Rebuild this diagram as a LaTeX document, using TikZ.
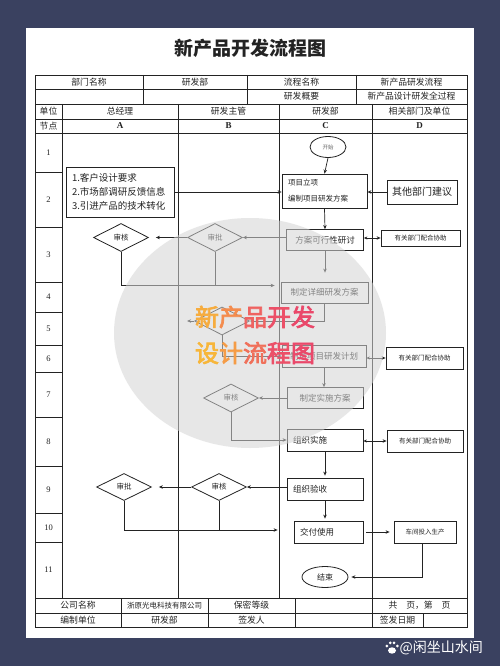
\documentclass[tikz,border=0pt]{standalone}
\usepackage{fontspec}
\setmainfont{Noto Sans CJK SC}
\newfontfamily\serif{Liberation Serif}
\newfontfamily\wmfont{Noto Sans CJK SC}[FakeBold=3]
\usetikzlibrary{shapes.geometric,arrows.meta,calc}
\definecolor{navy}{RGB}{58,65,96}
\definecolor{ink}{RGB}{35,35,35}
\definecolor{veil}{RGB}{212,212,212}
\definecolor{wmA}{RGB}{246,172,62}
\definecolor{wmB}{RGB}{244,140,78}
\definecolor{wmC}{RGB}{239,98,96}
\definecolor{wmD}{RGB}{236,80,104}
\definecolor{wmE}{RGB}{234,72,106}
\definecolor{wmF}{RGB}{247,182,58}
\definecolor{wmG}{RGB}{245,156,70}
\definecolor{wmH}{RGB}{240,112,90}
\tikzset{
  tline/.style={line width=0.9pt, draw=ink},
  cell/.style={font=\fontsize{8.8}{10}\selectfont, text=ink, inner sep=0pt},
  num/.style={font=\serif\fontsize{8.5}{10}\selectfont, text=ink, inner sep=0pt},
  box/.style={draw=ink, line width=0.8pt, inner sep=0pt, text=ink, font=\fontsize{8.5}{10}\selectfont},
  lbox/.style={box, align=left, inner xsep=6pt, inner ysep=0pt},
  dia/.style={diamond, draw=ink, line width=0.8pt, inner sep=0pt, minimum width=55pt, minimum height=28pt, text=ink, font=\fontsize{7.5}{9}\selectfont},
  term/.style={ellipse, draw=ink, line width=0.8pt, inner sep=0pt, text=ink},
  ln/.style={line width=0.7pt, draw=ink},
  arr/.style={ln, -{Stealth[length=4pt,width=3.5pt]}},
  biarr/.style={ln, {Stealth[length=3.5pt,width=3pt]}-{Stealth[length=4pt,width=3.5pt]}},
  small/.style={font=\fontsize{6.5}{8}\selectfont},
}
\begin{document}
\begin{tikzpicture}[x=1pt,y=-1pt]
\useasboundingbox (0,0) rectangle (500,666);
\fill[navy] (0,0) rectangle (500,666);
\fill[white] (26,28) rectangle (474,638);

% title
\node[font=\bfseries\fontsize{19}{22}\selectfont, text=ink] (title) at (250,48) {新产品开发流程图};

% table lines
\draw[tline] (35,75) rectangle (467,627);
\foreach \y in {89,104,119,133,598,613} \draw[tline] (35,\y) -- (467,\y);
\foreach \x in {143,247,356} \draw[tline] (\x,75) -- (\x,104);
\foreach \x in {62,178,279,372} \draw[tline] (\x,104) -- (\x,598);
\foreach \y in {172,227,282,312,345,372,417,466,513,542} \draw[tline] (35,\y) -- (62,\y);
\foreach \x in {121,208,295,372} \draw[tline] (\x,598) -- (\x,627);
\draw[tline] (423,613) -- (423,627);

% header cells
\node[cell] (h11) at (89,82) {部门名称};
\node[cell] (h12) at (195,82) {研发部};
\node[cell] (h13) at (301.5,82) {流程名称};
\node[cell] (h14) at (411.5,82) {新产品研发流程};
\node[cell] (h23) at (301.5,96.5) {研发概要};
\node[cell] (h24) at (411.5,96.5) {新产品设计研发全过程};
\node[cell] (u0) at (48.5,111.5) {单位};
\node[cell] (uA) at (120,111.5) {总经理};
\node[cell] (uB) at (228.5,111.5) {研发主管};
\node[cell] (uC) at (325.5,111.5) {研发部};
\node[cell] (uD) at (419.5,111.5) {相关部门及单位};
\node[cell] (n0) at (48.5,126) {节点};
\node[num, font=\serif\bfseries\fontsize{9}{10}\selectfont] (nA) at (120,126) {A};
\node[num, font=\serif\bfseries\fontsize{9}{10}\selectfont] (nB) at (228.5,126) {B};
\node[num, font=\serif\bfseries\fontsize{9}{10}\selectfont] (nC) at (325.5,126) {C};
\node[num, font=\serif\bfseries\fontsize{9}{10}\selectfont] (nD) at (419.5,126) {D};

% row numbers
\node[num] (r1) at (48.5,152.5) {1};
\node[num] (r2) at (48.5,199.5) {2};
\node[num] (r3) at (48.5,254.5) {3};
\node[num] (r4) at (48.5,297) {4};
\node[num] (r5) at (48.5,328.5) {5};
\node[num] (r6) at (48.5,358.5) {6};
\node[num] (r7) at (48.5,394.5) {7};
\node[num] (r8) at (48.5,441.5) {8};
\node[num] (r9) at (48.5,489.5) {9};
\node[num] (r10) at (48.5,527.5) {10};
\node[num] (r11) at (48.5,570) {11};

% footer cells
\node[cell] (f11) at (78,605.5) {公司名称};
\node[cell, font=\fontsize{7.5}{9}\selectfont] (f12) at (164.5,605.5) {浙原光电科技有限公司};
\node[cell] (f13) at (251.5,605.5) {保密等级};
\node[cell] (f15) at (419.5,605.5) {共\quad 页，第\quad 页};
\node[cell] (f21) at (78,620) {编制单位};
\node[cell] (f22) at (164.5,620) {研发部};
\node[cell] (f23) at (251.5,620) {签发人};
\node[cell] (f25) at (397.5,620) {签发日期};

% flow nodes
\node[term, minimum width=36pt, minimum height=21pt, font=\fontsize{5.5}{6}\selectfont, text=black!60] (start) at (328,147) {开始};
\node[lbox, text width=73pt, minimum height=34pt, font=\fontsize{7.5}{16}\selectfont] (c2) at (324.5,191) {项目立项\\编制项目研发方案};
\node[lbox, text width=96pt, minimum height=50pt, font=\fontsize{9.5}{14}\selectfont] (a2) at (120,192) {1.客户设计要求\\2.市场部调研反馈信息\\3.引进产品的技术转化};
\node[box, minimum width=70pt, minimum height=24pt, font=\fontsize{10}{12}\selectfont] (d2) at (422,192) {其他部门建议};
\node[box, minimum width=77pt, minimum height=21pt] (c3) at (325,240) {方案可行性研讨};
\node[dia] (b3) at (215,237.5) {审批};
\node[dia] (a3) at (121,237.5) {审核};
\node[box, small, minimum width=79pt, minimum height=16pt] (d3) at (420.5,238) {有关部门配合协助};
\node[box, minimum width=87pt, minimum height=21pt] (c4) at (324.5,292.5) {制定详细研发方案};
\node[dia] (b5) at (222,321) {};
\node[box, minimum width=84pt, minimum height=22pt] (c6) at (324,356) {制定项目研发计划};
\node[box, small, minimum width=77pt, minimum height=22pt] (d6) at (424.5,358) {有关部门配合协助};
\node[box, minimum width=76pt, minimum height=21pt] (c7) at (325,398) {制定实施方案};
\node[dia] (b7) at (231,398) {审核};
\node[lbox, text width=64pt, minimum height=22pt] (c8) at (325,440) {组织实施};
\node[box, small, minimum width=76pt, minimum height=22pt] (d8) at (425,441) {有关部门配合协助};
\node[lbox, text width=64pt, minimum height=22pt] (c9) at (325,489) {组织验收};
\node[dia, minimum height=27pt] (b9) at (219,487) {审核};
\node[dia, minimum height=27pt] (a9) at (124,487) {审批};
\node[lbox, text width=57pt, minimum height=22pt] (c10) at (328.5,532) {交付使用};
\node[box, small, minimum width=62pt, minimum height=22pt] (d10) at (425,532) {车间投入生产};
\node[term, minimum width=46pt, minimum height=21pt, font=\fontsize{8}{9}\selectfont] (end) at (325,577) {结束};

% connectors
\draw[arr] (start.south) -- (c2.north);
\draw[arr] (a2.east) -- (a2.east -| c2.west);
\draw[arr] (d2.west) -- (d2.west -| c2.east);
\draw[arr] (c2.south) -- (c3.north);
\draw[arr] (c3.west |- b3.east) -- (b3.east);
\draw[arr, shorten >=7pt] (b3.west) -- (a3.east);
\draw[biarr] (c3.east |- d3.west) -- (d3.west);
\coordinate (c4in) at ($(c4.west)+(0,-7)$);
\draw[arr, shorten >=6pt] (a3.south) |- (c4in);
\draw[ln] (b3.south) -- (b3.south |- c4in);
\draw[arr, shorten >=9pt] (c3.south) -- (c3.south |- c4.north);
\draw[arr] (c4.south) |- (b5.east);
\coordinate (b5out) at ($(b5.west)+(-7,0)$);
\draw[arr] (b5.west) -- (b5out);
\draw[arr] (b5.south) |- (c6.west);
\draw[biarr] (c6.east |- d6.west) -- (d6.west);
\draw[arr] (c6.south) -- (c6.south |- c7.north);
\draw[arr] (c7.west) -- (b7.east);
\draw[arr] (b7.south) |- (c8.west);
\draw[biarr] (c8.east |- d8.west) -- (d8.west);
\draw[arr, shorten >=2pt] (c8.south) -- (c9.north);
\draw[arr] (c9.west |- b9.east) -- (b9.east);
\draw[arr, shorten >=7pt] (b9.west) -- (a9.east);
\coordinate (c10in) at ($(c10.west)+(0,-2)$);
\draw[arr, shorten >=16pt] (a9.south) |- (c10in);
\draw[ln] (b9.south) -- (b9.south |- c10in);
\draw[arr, shorten >=2pt] (c9.south) -- (c9.south |- c10.north);
\draw[arr, shorten <=3pt, shorten >=4pt] (c10.east) -- (d10.west);
\draw[arr, shorten >=3pt] ($(d10.south)+(-3,0)$) |- (end.east);

% watermark veil
\fill[veil, fill opacity=0.55] (250,333) ellipse [x radius=136, y radius=115];
\node[font=\wmfont\fontsize{24}{26}\selectfont, inner sep=0pt] (wm1) at (255,317)
  {\textcolor{wmA}{新}\textcolor{wmB}{产}\textcolor{wmC}{品}\textcolor{wmD}{开}\textcolor{wmE}{发}};
\node[font=\wmfont\fontsize{24}{26}\selectfont, inner sep=0pt] (wm2) at (255,353)
  {\textcolor{wmF}{设}\textcolor{wmG}{计}\textcolor{wmH}{流}\textcolor{wmD}{程}\textcolor{wmE}{图}};

% corner credit
\fill[white] (392,650.5) ellipse [x radius=4, y radius=3.2];
\fill[white] (386.8,646) circle (1.5);
\fill[white] (390.3,642.8) circle (1.5);
\fill[white] (394,642.8) circle (1.5);
\fill[white] (397.3,646) circle (1.5);
\node[anchor=west, text=white, font=\fontsize{14}{16}\selectfont, inner sep=0pt] (credit) at (399.5,647.5) {@闲坐山水间};
\end{tikzpicture}
\end{document}
